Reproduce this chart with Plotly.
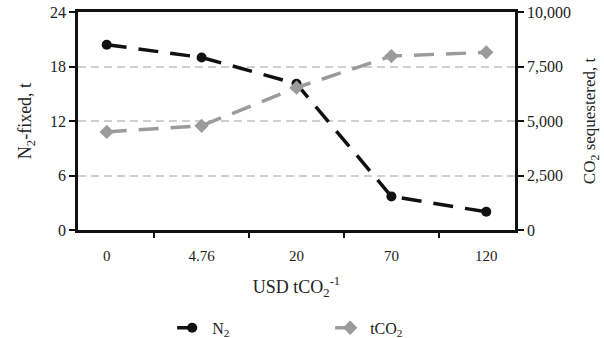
import plotly.graph_objects as go

categories = ["0", "4.76", "20", "70", "120"]
n2_fixed = [20.4, 19.0, 16.1, 3.7, 2.0]
co2_seq = [4500, 4780, 6530, 7980, 8150]

FONT = "Liberation Serif"

fig = go.Figure()
fig.add_trace(go.Scatter(
    x=categories, y=n2_fixed, name="N<sub>2</sub>", yaxis="y",
    mode="lines+markers",
    line=dict(color="#111111", width=3.5, dash="20px,12px"),
    marker=dict(symbol="circle", size=10, color="#111111"),
))
fig.add_trace(go.Scatter(
    x=categories, y=co2_seq, name="tCO<sub>2</sub>", yaxis="y2",
    mode="lines+markers",
    line=dict(color="#9b9b9b", width=3.5, dash="20px,12px"),
    marker=dict(symbol="diamond", size=11, color="#9b9b9b"),
))

fig.update_layout(
    width=604, height=338,
    margin=dict(l=78, r=89, t=12, b=108),
    paper_bgcolor="white", plot_bgcolor="white",
    font=dict(family=FONT, size=15, color="#222"),
    showlegend=True,
    legend=dict(orientation="h", xref="container", yref="container",
                x=0.285, xanchor="left", y=0.03, yanchor="middle",
                font=dict(size=16), entrywidth=113, bgcolor="rgba(0,0,0,0)"),
    xaxis=dict(
        type="category", tickson="boundaries", ticks="outside", ticklen=5,
        tickwidth=2, tickcolor="#111", showline=True, linecolor="#111", linewidth=2.5,
        mirror=True, showgrid=False, zeroline=False, automargin=False,
        ticklabelstandoff=10,
        title=dict(text="USD tCO<sub>2</sub><sup>-1</sup>", standoff=18, font=dict(size=18)),
        tickfont=dict(size=15),
    ),
    yaxis=dict(
        range=[0, 24], dtick=6, ticks="outside", ticklen=6, tickwidth=2, tickcolor="#111",
        showline=True, linecolor="#111", linewidth=2.5, automargin=False,
        showgrid=True, gridcolor="#cfcfcf", griddash="8px,5px", gridwidth=1.5,
        zeroline=False,
        title=dict(text="N<sub>2</sub>-fixed, t", standoff=14, font=dict(size=18)),
        tickfont=dict(size=16),
    ),
    yaxis2=dict(
        range=[0, 10000], dtick=2500, tickformat=",", overlaying="y", side="right",
        ticks="outside", ticklen=6, tickwidth=2, tickcolor="#111", automargin=False,
        showline=True, linecolor="#111", linewidth=2.5, showgrid=False, zeroline=False,
        title=dict(text="CO<sub>2</sub> sequestered, t", standoff=14, font=dict(size=17)),
        tickfont=dict(size=16),
    ),
)

fig.write_html("out.html", config={"displayModeBar": False},
               post_script="document.body.style.margin='0';")
